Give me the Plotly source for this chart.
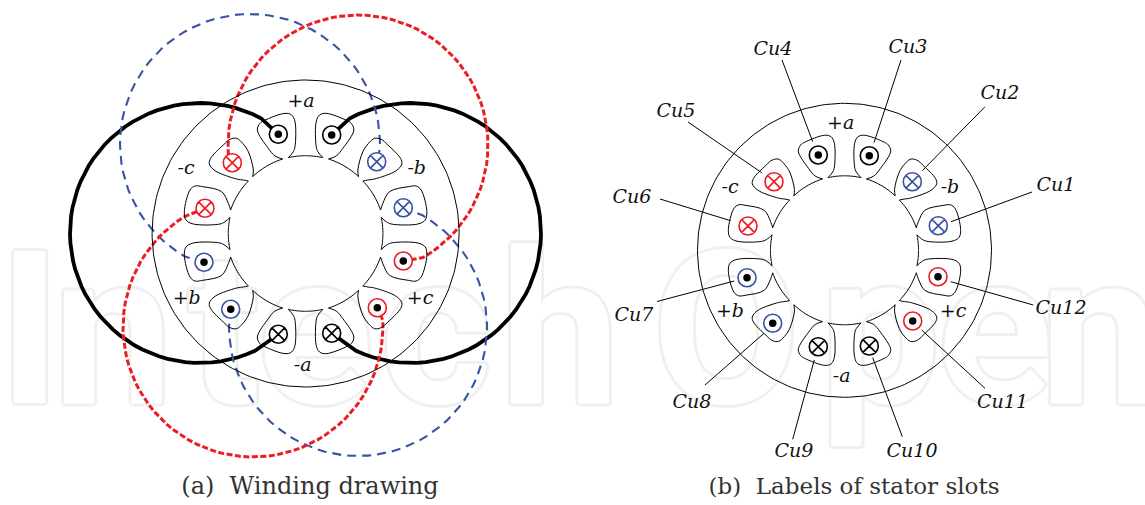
import numpy as np
import plotly.graph_objects as go

BLACK = "#000000"
RED = "#ed1c24"
BLUE = "#3953a4"

# slots in order Cu1..Cu12
slot_names = ["Cu1", "Cu2", "Cu3", "Cu4", "Cu5", "Cu6", "Cu7", "Cu8", "Cu9", "Cu10", "Cu11", "Cu12"]
slot_colors = [BLUE, BLUE, BLACK, BLACK, RED, RED, BLUE, BLUE, BLACK, BLACK, RED, RED]
slot_kinds = ["x", "x", "dot", "dot", "x", "x", "dot", "dot", "x", "x", "dot", "dot"]

# conductor centres
left_slot_x = [403.3, 376.7, 331.7, 278.3, 232.3, 205.0, 204.0, 230.7, 278.3, 331.7, 377.3, 403.3]
left_slot_y = [207.7, 161.7, 135.0, 134.3, 162.7, 208.3, 262.3, 309.3, 334.3, 333.3, 307.7, 261.0]
right_slot_x = [938.3, 912.3, 869.3, 818.3, 774.0, 748.0, 747.0, 772.7, 818.3, 869.3, 912.7, 938.0]
right_slot_y = [225.7, 181.7, 155.7, 155.0, 181.7, 226.0, 277.7, 323.3, 346.7, 346.0, 321.0, 276.7]

# stator circles: centre x, centre y, radius
left_stator = (305.6, 233.5, 153.5)
right_stator = (844.5, 250.3, 147.0)

# upper left quadrant of the slot outline, traced at 3x, centre at (496.8, 460.5)
slot_a_x = [445, 460, 465, 465, 455, 435, 372, 360, 352, 385, 405, 428]
slot_a_y = [233, 215, 200, 125, 105, 100, 122, 130, 150, 205, 228, 237]
slot_b_x = [338, 340, 325, 308, 290, 270, 250, 212, 208, 225, 290, 310, 325]
slot_b_y = [290, 270, 215, 190, 175, 178, 195, 235, 252, 272, 297, 300, 303]
slot_c_x = [272, 265, 245, 188, 165, 150, 133, 138, 160, 240, 255, 270]
slot_c_y = [390, 370, 335, 320, 318, 330, 395, 420, 432, 432, 425, 412]

# winding arcs: centre x, centre y, radius, start deg, end deg, first slot, last slot
black_windings = [(200, 233, 130, -62, -295, 3, 8), (411, 233, 130, 242, 475, 2, 9)]
blue_windings = [(250, 144, 130, 120, 362, 6, 1), (358, 327, 129, -60, 180, 0, 7)]
red_windings = [(358, 145, 130, 175, 420, 4, 11), (253, 327, 130, 238, -3, 5, 10)]

# phase labels
left_phase_text = ["+a", "-a", "-c", "-b", "+b", "+c"]
left_phase_x = [301, 302.7, 186, 416.7, 186.7, 420]
left_phase_y = [102.7, 366, 169.3, 169.3, 299, 299]
right_phase_x = [840.7, 841.7, 730, 950, 730, 953]
right_phase_y = [124.3, 377, 188.3, 188.3, 312.7, 312.7]

# Cu labels and their leader lines
label_x = [1056, 1000, 908, 773, 676, 632, 634, 692, 794, 912, 1002.5, 1061]
label_y = [186, 94, 48, 50, 112, 198, 316, 403, 452, 452, 403, 309]
leader_x0 = [1032, 985, 901, 782, 688, 660, 657, 705, 792.7, 902.3, 985, 1033.3]
leader_y0 = [192, 106.7, 60, 60, 122, 199, 301.5, 385, 439.3, 436.7, 388.3, 305]
leader_x1 = [951, 922.3, 874, 812.7, 761.7, 730.7, 734.3, 764, 814.3, 872.7, 921.7, 950.7]
leader_y1 = [221.7, 170.7, 142.7, 141.7, 172.7, 220.7, 281, 333.3, 360, 357.7, 330, 281.7]

captions = ["(a)  Winding drawing", "(b)  Labels of stator slots"]
caption_x = [310, 854]
caption_size = [24, 23]

watermark_letters = ["I", "n", "t", "e", "c", "h", "O", "p", "e", "n"]
watermark_x = [29.5, 113, 224, 315, 436, 560, 726, 880, 995, 1100]


def tip_arc(p0, p1):
    # tooth tip between two slot ends, follows the bore
    r0, r1 = np.hypot(*p0), np.hypot(*p1)
    t0, t1 = np.arctan2(p0[1], p0[0]), np.arctan2(p1[1], p1[0])
    if t1 - t0 > np.pi:
        t1 -= 2 * np.pi
    if t0 - t1 > np.pi:
        t1 += 2 * np.pi
    t = np.linspace(t0, t1, 12)
    r = np.linspace(r0, r1, 12)
    return list(r * np.cos(t)), list(r * np.sin(t))


def stator_outline(stator):
    cx, cy, rad = stator
    k = rad / 153.5 / 3
    ax = [x - 496.8 for x in slot_a_x]
    ay = [y - 460.5 for y in slot_a_y]
    bx = [x - 496.8 for x in slot_b_x]
    by = [y - 460.5 for y in slot_b_y]
    gx = [x - 496.8 for x in slot_c_x]
    gy = [y - 460.5 for y in slot_c_y]

    parts = [(ax, ay), (bx, by), (gx, gy)]
    # half tooth tips on the axes
    top_r = np.hypot(ax[0], ay[0])
    side_r = np.hypot(gx[-1], gy[-1])
    parts.append(tip_arc((ax[0], ay[0]), (0.0, -top_r)))
    parts.append(tip_arc((ax[-1], ay[-1]), (bx[0], by[0])))
    parts.append(tip_arc((bx[-1], by[-1]), (gx[0], gy[0])))
    parts.append(tip_arc((gx[-1], gy[-1]), (-side_r, 0.0)))

    xs, ys = [], []
    for sx, sy in [(1, 1), (-1, 1), (1, -1), (-1, -1)]:
        for px, py in parts:
            xs += [cx + sx * k * v for v in px] + [None]
            ys += [cy + sy * k * v for v in py] + [None]
    return xs, ys


def circle_xy(stator):
    t = np.linspace(0, 2 * np.pi, 241)
    return stator[0] + stator[2] * np.cos(t), stator[1] + stator[2] * np.sin(t)


def winding_xy(w):
    cx, cy, r, a0, a1, first, last = w
    n = int(abs(a1 - a0) / 4) + 2
    t = np.radians(np.linspace(a0, a1, n))
    xs = [left_slot_x[first]] + list(cx + r * np.cos(t)) + [left_slot_x[last]]
    ys = [left_slot_y[first]] + list(cy + r * np.sin(t)) + [left_slot_y[last]]
    return xs, ys


def add_conductors(fig, xs, ys):
    for color in [BLACK, RED, BLUE]:
        for kind in ["x", "dot"]:
            idx = [i for i in range(12) if slot_colors[i] == color and slot_kinds[i] == kind]
            px = [xs[i] for i in idx]
            py = [ys[i] for i in idx]
            fig.add_trace(go.Scatter(
                x=px, y=py, mode="markers",
                marker=dict(symbol="circle-x" if kind == "x" else "circle", size=18,
                            color="white", line=dict(color=color, width=1.6)),
            ))
            if kind == "dot":
                fig.add_trace(go.Scatter(
                    x=px, y=py, mode="markers",
                    marker=dict(symbol="circle", size=7.5, color=BLACK),
                ))


fig = go.Figure()

# pale outlined watermark behind everything
outline = "3px 0 0 #f0f0f0,-3px 0 0 #f0f0f0,0 3px 0 #f0f0f0,0 -3px 0 #f0f0f0,2px 2px 0 #f0f0f0,-2px 2px 0 #f0f0f0,2px -2px 0 #f0f0f0,-2px -2px 0 #f0f0f0"
fig.add_trace(go.Scatter(
    x=watermark_x, y=[349.5] * len(watermark_x), mode="text", text=watermark_letters,
    textposition="middle center",
    textfont=dict(family="Roboto", size=214, color="white", weight=700, shadow=outline),
    cliponaxis=False,
))

# windings
for w in black_windings:
    xs, ys = winding_xy(w)
    fig.add_trace(go.Scatter(x=xs, y=ys, mode="lines", line=dict(color=BLACK, width=3.8)))
for w in blue_windings:
    xs, ys = winding_xy(w)
    fig.add_trace(go.Scatter(x=xs, y=ys, mode="lines", line=dict(color=BLUE, width=2.1, dash="9px,6px")))
for w in red_windings:
    xs, ys = winding_xy(w)
    fig.add_trace(go.Scatter(x=xs, y=ys, mode="lines", line=dict(color=RED, width=3, dash="6px,2.5px")))

# stators
for stator in [left_stator, right_stator]:
    xs, ys = circle_xy(stator)
    fig.add_trace(go.Scatter(x=xs, y=ys, mode="lines", line=dict(color=BLACK, width=1.0)))
    xs, ys = stator_outline(stator)
    fig.add_trace(go.Scatter(x=xs, y=ys, mode="lines", line=dict(color=BLACK, width=1.0, shape="spline", smoothing=1.0)))

# leaders
for i in range(12):
    fig.add_trace(go.Scatter(x=[leader_x0[i], leader_x1[i]], y=[leader_y0[i], leader_y1[i]],
                             mode="lines", line=dict(color=BLACK, width=1.0)))

add_conductors(fig, left_slot_x, left_slot_y)
add_conductors(fig, right_slot_x, right_slot_y)

italic = dict(family="DejaVu Serif", size=19, color="#111111", style="italic")
fig.add_trace(go.Scatter(x=left_phase_x, y=left_phase_y, mode="text", text=left_phase_text, textfont=italic))
fig.add_trace(go.Scatter(x=right_phase_x, y=right_phase_y, mode="text", text=left_phase_text, textfont=italic))
fig.add_trace(go.Scatter(x=label_x, y=label_y, mode="text", text=slot_names, textfont=italic))
fig.add_trace(go.Scatter(x=caption_x, y=[488, 488], mode="text", text=captions,
                         textfont=dict(family="DejaVu Serif", size=caption_size, color="#333333")))

fig.update_layout(
    width=1145, height=505,
    margin=dict(l=0, r=0, t=0, b=0),
    paper_bgcolor="white", plot_bgcolor="white",
    showlegend=False,
    xaxis=dict(range=[0, 1145], visible=False),
    yaxis=dict(range=[505, 0], visible=False),
)

fig.write_html("out.html", config=dict(displayModeBar=False), post_script="document.body.style.margin='0';")
